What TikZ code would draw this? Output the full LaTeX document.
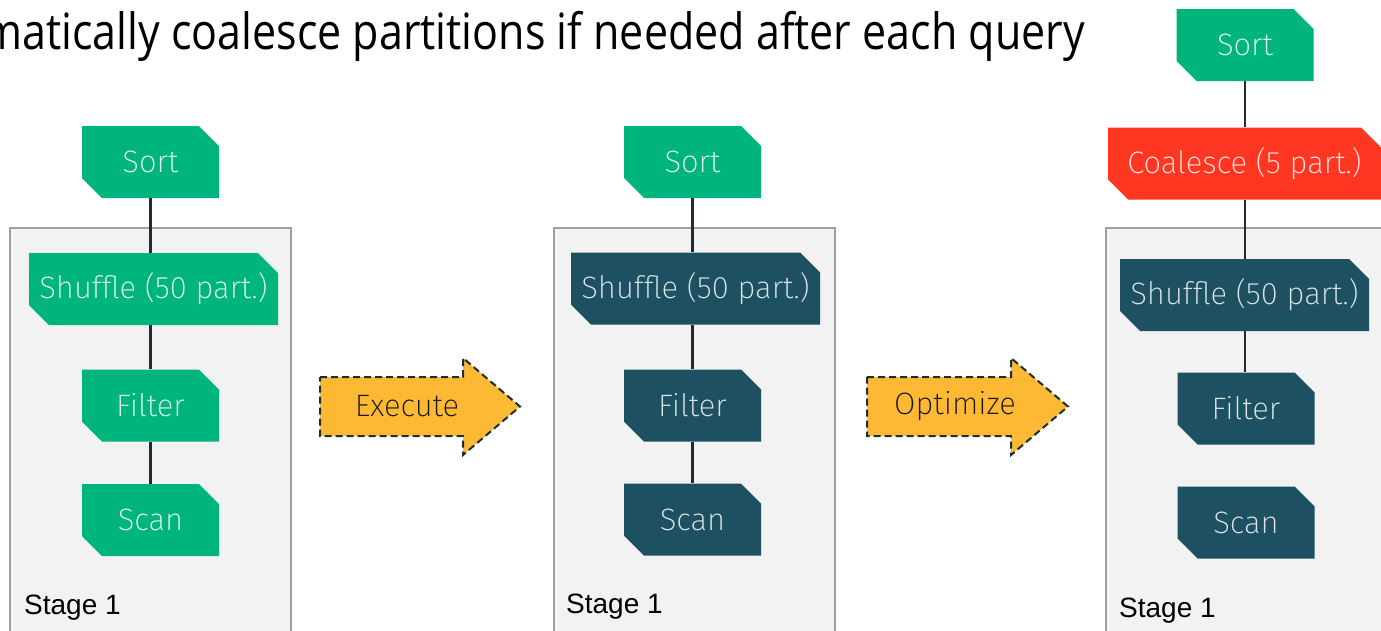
\documentclass[tikz,border=0pt]{standalone}
\usepackage{fontspec}
\setmainfont{Liberation Sans}
\newfontfamily\lightfont{Fira Sans ExtraLight}
\newfontfamily\titlefont{Open Sans}
\usetikzlibrary{shapes.misc}
\definecolor{dbgreen}{HTML}{00B47D}
\definecolor{dbteal}{HTML}{1D5162}
\definecolor{dbred}{HTML}{FF3621}
\definecolor{dbyellow}{HTML}{FDB933}
\definecolor{stagegray}{HTML}{F2F2F2}
\definecolor{stageline}{HTML}{A0A0A0}
\definecolor{linkc}{HTML}{1E2D33}
\tikzset{
  op/.style={chamfered rectangle, chamfered rectangle corners={north east,south west},
    chamfered rectangle xsep=10pt, chamfered rectangle ysep=10pt, inner sep=0pt,
    minimum height=72pt, font=\lightfont\fontsize{31}{36}\selectfont},
  smallop/.style={op, minimum width=137pt},
  wideop/.style={op, minimum width=249pt},
  opgreen/.style={fill=dbgreen, text=white!88!dbgreen},
  opteal/.style={fill=dbteal, text=white!85!dbteal},
  opred/.style={fill=dbred, text=white!85!dbred},
  stagebox/.style={draw=stageline, line width=1.5pt, fill=stagegray, inner sep=0pt, anchor=north west},
  stagelabel/.style={anchor=base west, font=\fontsize{28}{32}\selectfont, inner sep=0pt},
  link/.style={draw=linkc, line width=2.5pt},
  bigarrow/.style={fill=dbyellow, draw=linkc, line width=2pt, dash pattern=on 7pt off 4pt},
  arrowtext/.style={font=\lightfont\fontsize{31}{36}\selectfont, text=black!90, inner sep=0pt},
}
\begin{document}
\begin{tikzpicture}[x=1pt,y=-1pt]
\useasboundingbox (0,0) rectangle (1381,630);
\clip (0,0) rectangle (1381,630);
% title
\node[anchor=base east, inner sep=0pt, xscale=0.86, font=\titlefont\fontsize{50}{54}\selectfont] (title) at (1085,49) {matically coalesce partitions if needed after each query};
% stage boxes
\node[stagebox, minimum width=281pt, minimum height=420pt] (stageA) at (9,227) {};
\node[stagebox, minimum width=281pt, minimum height=420pt] (stageB) at (553,227) {};
\node[stagebox, minimum width=300pt, minimum height=420pt] (stageC) at (1105,227) {};
\node[stagelabel] (labA) at (24,614) {Stage 1};
\node[stagelabel] (labB) at (566,613) {Stage 1};
\node[stagelabel] (labC) at (1119,617) {Stage 1};
% left column
\node[smallop, opgreen] (sortA) at (150.5,162) {Sort};
\node[wideop, opgreen] (shufA) at (153.5,289) {Shuffle (50 part.)};
\node[smallop, opgreen] (filtA) at (150.5,405.5) {Filter};
\node[smallop, opgreen] (scanA) at (150.5,520) {Scan};
\draw[link] (sortA.south) -- (sortA.south |- shufA.north);
\draw[link] (sortA.south |- shufA.south) -- (filtA.north);
\draw[link] (filtA.south) -- (scanA.north);
% middle column
\node[smallop, opgreen] (sortB) at (692.5,162) {Sort};
\node[wideop, opteal] (shufB) at (695.5,288.5) {Shuffle (50 part.)};
\node[smallop, opteal] (filtB) at (692.5,405.5) {Filter};
\node[smallop, opteal] (scanB) at (692.5,519.5) {Scan};
\draw[link] (sortB.south) -- (sortB.south |- shufB.north);
\draw[link] (sortB.south |- shufB.south) -- (filtB.north);
\draw[link] (filtB.south) -- (scanB.north);
% right column
\node[smallop, opgreen] (sortC) at (1245,45) {Sort};
\node[op, opred, minimum width=273pt] (coalC) at (1244.5,163.5) {Coalesce (5 part.)};
\node[wideop, opteal] (shufC) at (1244.5,295) {Shuffle (50 part.)};
\node[smallop, opteal] (filtC) at (1246,408.5) {Filter};
\node[smallop, opteal] (scanC) at (1246,522.5) {Scan};
\draw[link] (sortC.south) -- (sortC.south |- coalC.north);
\draw[link] (sortC.south |- coalC.south) -- (sortC.south |- shufC.north);
\draw[link] (sortC.south |- shufC.south) -- (sortC.south |- filtC.north);
% arrows
\path[bigarrow] (320,377) -- (463,377) -- (463,358) -- (520,406.5) -- (463,455) -- (463,436) -- (320,436) -- cycle;
\node[arrowtext] (execute) at (407,406.5) {Execute};
\path[bigarrow] (867,377) -- (1011,377) -- (1011,358) -- (1068,406.5) -- (1011,455) -- (1011,436) -- (867,436) -- cycle;
\node[arrowtext] (optimize) at (955,406.5) {Optimize};
\end{tikzpicture}
\end{document}
